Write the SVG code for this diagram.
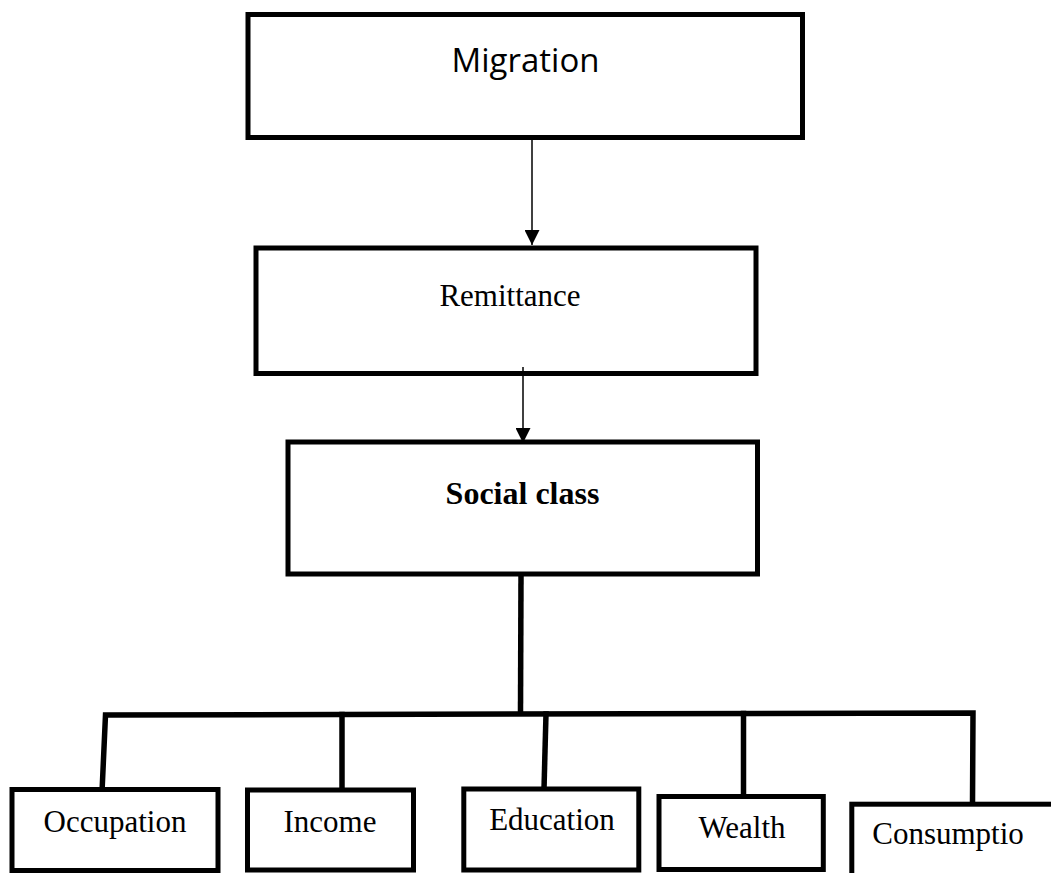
<svg xmlns="http://www.w3.org/2000/svg" width="1051" height="873" viewBox="0 0 1051 873">
  <style>
    .box { fill: #ffffff; stroke: #000000; stroke-width: 5; stroke-linejoin: miter; }
    .thick { fill: none; stroke: #000000; stroke-width: 5.5; stroke-linecap: square; stroke-linejoin: miter; }
    .thin { fill: none; stroke: #000000; stroke-width: 1.5; }
    .serif { font-family: "Liberation Serif", "Times New Roman", serif; font-size: 31px; fill: #000000; text-anchor: middle; }
    .bold { font-weight: bold; font-size: 32px; }
    .sans { font-family: "Open Sans", "Noto Sans", sans-serif; font-size: 33px; fill: #000000; text-anchor: middle; }
  </style>
  <defs>
    <marker id="arrow" viewBox="0 0 15 15" refX="15" refY="7.5" markerWidth="15" markerHeight="15" markerUnits="userSpaceOnUse" orient="auto">
      <path d="M0,0 L15,7.5 L0,15 Z" fill="#000000"/>
    </marker>
  </defs>
  <rect width="1051" height="873" fill="#ffffff"/>

  <g id="node-migration">
    <rect class="box" x="248" y="14.5" width="554.5" height="123"/>
    <text class="sans" x="525.5" y="72">Migration</text>
  </g>

  <g id="node-remittance">
    <rect class="box" x="256" y="248" width="500" height="125.5"/>
    <text class="serif" x="510" y="306">Remittance</text>
  </g>

  <g id="node-social-class">
    <rect class="box" x="288" y="442" width="469.5" height="132"/>
    <text class="serif bold" x="522.5" y="504">Social class</text>
  </g>

  <g id="connectors">
    <line class="thin" x1="532" y1="137" x2="532" y2="245" marker-end="url(#arrow)"/>
    <line class="thin" x1="523" y1="367" x2="523" y2="443" marker-end="url(#arrow)"/>
    <line class="thick" x1="521" y1="576" x2="520.5" y2="713"/>
    <polyline class="thick" points="102,792 105.5,715 973,713 972.5,804"/>
    <line class="thick" x1="342" y1="714.5" x2="342" y2="790"/>
    <line class="thick" x1="546" y1="714" x2="544" y2="789"/>
    <line class="thick" x1="743.5" y1="713.5" x2="743.5" y2="796"/>
  </g>

  <g id="node-occupation">
    <rect class="box" x="12" y="789.5" width="206" height="81"/>
    <text class="serif" x="115" y="832">Occupation</text>
  </g>

  <g id="node-income">
    <rect class="box" x="247.5" y="790" width="166" height="80"/>
    <text class="serif" x="330" y="832">Income</text>
  </g>

  <g id="node-education">
    <rect class="box" x="463.8" y="789" width="175" height="81"/>
    <text class="serif" x="552" y="829.5">Education</text>
  </g>

  <g id="node-wealth">
    <rect class="box" x="659" y="796.5" width="164.3" height="73"/>
    <text class="serif" x="742" y="838">Wealth</text>
  </g>

  <g id="node-consumption">
    <rect class="box" x="851.8" y="804.2" width="210" height="90"/>
    <text class="serif" x="948" y="843.5">Consumptio</text>
  </g>
</svg>
